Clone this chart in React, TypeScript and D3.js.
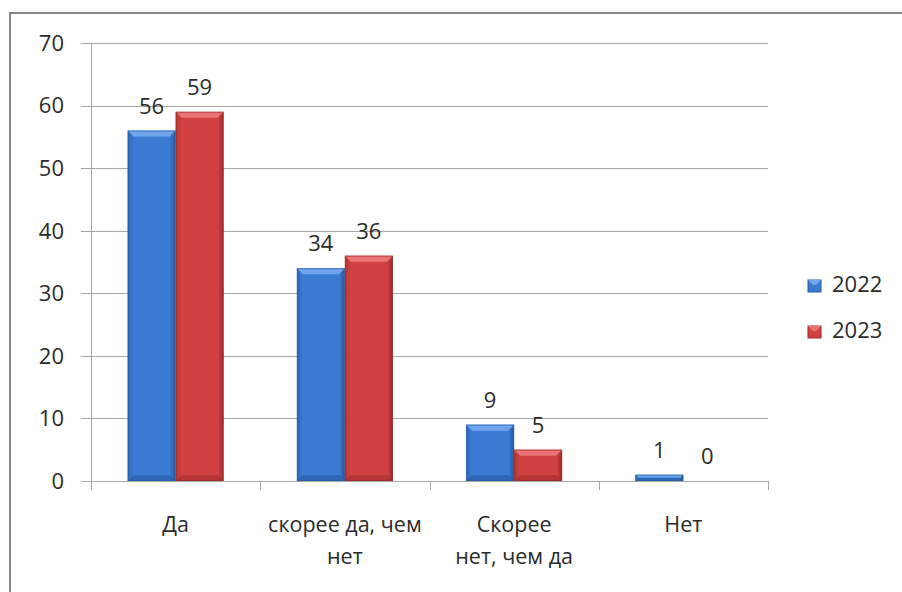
import React from "react";
import * as d3 from "d3";

const categories: string[][] = [["Да"], ["скорее да, чем", "нет"], ["Скорее", "нет, чем да"], ["Нет"]];
const categoryKeys = ["Да", "скорее да, чем нет", "Скорее нет, чем да", "Нет"];
const seriesNames = ["2022", "2023"];
const values2022 = [56, 34, 9, 1];
const values2023 = [59, 36, 5, 0];
const yTicks = [0, 10, 20, 30, 40, 50, 60, 70];

const W = 902;
const H = 592;
const FONT = "'Open Sans', 'DejaVu Sans', sans-serif";

const palettes = [
  { main: "#3b7bd4", light: "#72a6ec", dark: "#245a9e", edge: "#2d66b3" },
  { main: "#d24141", light: "#ea7474", dark: "#9c2a2a", edge: "#b33434" },
];

export default function App() {
  const left = 91, right = 768, top = 43, bottom = 481;
  const y = d3.scaleLinear().domain([0, 70]).range([bottom, top]);
  const x = d3.scaleBand<string>().domain(categoryKeys).range([left, right]).paddingInner(0).paddingOuter(0);
  const groupW = 96;
  const x1 = d3.scaleBand<string>().domain(seriesNames).range([0, groupW]).padding(0);
  const series = [values2022, values2023];
  const gridColor = "#a6a6a6";
  const bw = x1.bandwidth();
  const bev = 6;
  const textColor = "#2b2b2b";

  return (
    <svg width={W} height={H} style={{ position: "absolute", left: 0, top: 0, background: "#fff" }} fontFamily={FONT}>
      <defs>
        {palettes.map((p, i) => (
          <linearGradient key={i} id={`g${i}`} x1="0" x2="1" y1="0" y2="0">
            <stop offset="0" stopColor={p.edge} />
            <stop offset="0.12" stopColor={p.main} />
            <stop offset="0.5" stopColor={p.main} />
            <stop offset="0.88" stopColor={p.main} />
            <stop offset="1" stopColor={p.dark} />
          </linearGradient>
        ))}
      </defs>
      <rect x={0} y={0} width={W} height={H} fill="#fff" />
      {/* outer border */}
      <path d={`M10,${H + 2} L10,13 L${W + 2},13`} fill="none" stroke="#878787" strokeWidth={2} />

      {/* gridlines */}
      {yTicks.map((t) => (
        <line key={t} x1={81} x2={right} y1={Math.round(y(t)) + 0.5} y2={Math.round(y(t)) + 0.5} stroke={gridColor} strokeWidth={1} />
      ))}
      {/* y axis */}
      <line x1={left + 0.5} x2={left + 0.5} y1={top} y2={bottom} stroke={gridColor} />
      {/* x ticks */}
      {[...categoryKeys.map((c) => x(c)!), right].map((v, i) => (
        <line key={i} x1={Math.round(v) + 0.5} x2={Math.round(v) + 0.5} y1={bottom} y2={bottom + 9} stroke={gridColor} />
      ))}
      {/* y tick labels */}
      {yTicks.map((t) => (
        <text key={t} x={64} y={y(t)} dy="0.36em" textAnchor="end" fontSize={22} fill={textColor}>
          {t}
        </text>
      ))}

      {/* bars */}
      {categoryKeys.map((c, ci) => {
        const gx = x(c)! + (x.bandwidth() - groupW) / 2;
        return (
          <g key={c}>
            {series.map((vals, si) => {
              const v = vals[ci];
              const bx = gx + x1(seriesNames[si])!;
              const by = y(v);
              const h = bottom - by;
              const p = palettes[si];
              const b = Math.min(bev, h / 2);
              return (
                <g key={si}>
                  {h > 0 && (
                    <g>
                      <rect x={bx} y={by} width={bw} height={h} fill={`url(#g${si})`} />
                      <polygon points={`${bx},${by} ${bx + bw},${by} ${bx + bw - b},${by + b} ${bx + b},${by + b}`} fill={p.light} />
                      <polygon points={`${bx},${bottom} ${bx + bw},${bottom} ${bx + bw - b},${bottom - b} ${bx + b},${bottom - b}`} fill={p.dark} opacity={0.55} />
                      <rect x={bx + 0.5} y={by + 0.5} width={bw - 1} height={Math.max(h - 1, 0)} fill="none" stroke={p.dark} strokeOpacity={0.6} />
                    </g>
                  )}
                  <text x={bx + bw / 2} y={by - 17} textAnchor="middle" fontSize={22} fill={textColor}>
                    {v}
                  </text>
                </g>
              );
            })}
          </g>
        );
      })}

      {/* category labels */}
      {categoryKeys.map((c, ci) => (
        <text key={c} x={x(c)! + x.bandwidth() / 2} y={532} textAnchor="middle" fontSize={21.5} fill={textColor}>
          {categories[ci].map((line, li) => (
            <tspan key={li} x={x(c)! + x.bandwidth() / 2} dy={li === 0 ? 0 : 32}>
              {line}
            </tspan>
          ))}
        </text>
      ))}

      {/* legend */}
      {seriesNames.map((s, si) => {
        const ly = 292 + si * 46;
        const p = palettes[si];
        return (
          <g key={s}>
            <rect x={808} y={ly - 12} width={13} height={12} fill={p.main} stroke={p.dark} strokeWidth={1} />
            <polygon points={`${808},${ly - 12} ${821},${ly - 12} ${816},${ly - 7} ${813},${ly - 7}`} fill={p.light} />
            <text x={832} y={ly} fontSize={22} fill={textColor}>
              {s}
            </text>
          </g>
        );
      })}
    </svg>
  );
}
